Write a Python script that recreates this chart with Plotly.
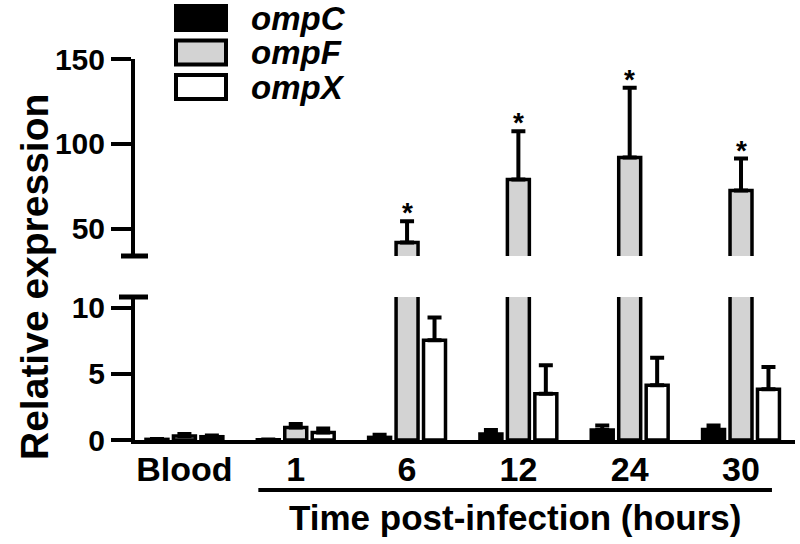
import plotly.graph_objects as go

# ---------------- data ----------------
categories = ["Blood", "1", "6", "12", "24", "30"]
series_names = ["ompC", "ompF", "ompX"]
ompC = [0.05, 0.02, 0.2, 0.45, 0.75, 0.8]
ompC_err = [0.02, 0.02, 0.2, 0.3, 0.35, 0.3]
ompF = [0.3, 0.95, 42, 79, 92, 72.5]
ompF_err = [0.15, 0.26, 12.4, 28.5, 41, 18.9]
ompX = [0.25, 0.57, 7.55, 3.5, 4.14, 3.84]
ompX_err = [0.1, 0.3, 1.73, 2.16, 2.09, 1.68]
significance = ["", "", "*", "*", "*", "*"]
lower_ticks = [0, 5, 10]
upper_ticks = [50, 100, 150]

values = [ompC, ompF, ompX]
errors = [ompC_err, ompF_err, ompX_err]
fills = ["black", "#d3d3d3", "white"]

FONT = "Liberation Sans, Arial, Helvetica, sans-serif"

# layout geometry (pixels)
W, H = 800, 544
L, R, T, B = 135, 5, 59, 440
PW, PH = W - L - R, B - T


def px_x(px):
    return (px - L) / PW


def px_y(py):
    return (B - py) / PH


fig = go.Figure()
for ax in ["y", "y2"]:
    for name, vals, errs, fill in zip(series_names, values, errors, fills):
        fig.add_trace(go.Bar(
            x=categories, y=vals, name=name, yaxis=ax, xaxis="x",
            marker=dict(color=fill, line=dict(color="black", width=3.5)),
            error_y=dict(type="data", array=errs, arrayminus=[0] * len(errs),
                         symmetric=False, color="black", thickness=4, width=7),
            showlegend=False,
        ))

axis_common = dict(
    showline=True, linewidth=4, linecolor="black",
    ticks="outside", ticklen=20, tickwidth=4, tickcolor="black",
    showgrid=False, zeroline=False,
    tickfont=dict(family=FONT, size=30, color="black", weight="bold"),
)

lower_top = 10.83
upper_bottom = 34

fig.update_layout(
    width=W, height=H,
    margin=dict(l=L, r=R, t=T, b=H - B),
    paper_bgcolor="white", plot_bgcolor="white",
    barmode="group", bargap=0.26, bargroupgap=0.2,
    showlegend=False,
    xaxis=dict(
        type="category", range=[-0.444, 5.485], anchor="y",
        showline=True, linewidth=4, linecolor="black", ticks="",
        showgrid=False, zeroline=False, ticklabelstandoff=-4,
        tickfont=dict(family=FONT, size=34, color="black", weight="bold"),
    ),
    yaxis=dict(domain=[0, px_y(297)], range=[0, lower_top], tickvals=lower_ticks,
               anchor="x", **axis_common),
    yaxis2=dict(domain=[px_y(256), 1], range=[upper_bottom, 150], tickvals=upper_ticks,
                anchor="x", **axis_common),
)

shapes = []
annotations = []

# axis break caps
shapes.append(dict(type="line", xref="paper", yref="y domain",
                   x0=px_x(L - 16), x1=px_x(L + 13), y0=1, y1=1,
                   line=dict(color="black", width=5)))
shapes.append(dict(type="line", xref="paper", yref="y2 domain",
                   x0=px_x(L - 14), x1=px_x(L + 13), y0=0, y1=0,
                   line=dict(color="black", width=5)))

# significance stars (x given as category index)
for i, s in enumerate(significance):
    if s:
        annotations.append(dict(
            x=i, y=ompF[i] + ompF_err[i], xref="x", yref="y2",
            text=s, showarrow=False, yanchor="bottom", yshift=-9,
            font=dict(family=FONT, size=28, color="black", weight="bold"),
        ))

# bracket under time points
first_t, last_t = 1, len(categories) - 1
shapes.append(dict(type="line", xref="x", yref="paper",
                   x0=first_t - 0.336, x1=last_t + 0.278,
                   y0=px_y(490), y1=px_y(490),
                   line=dict(color="black", width=4)))
annotations.append(dict(
    x=(first_t - 0.336 + last_t + 0.278) / 2, y=px_y(517), xref="x", yref="paper",
    text="Time post-infection (hours)", showarrow=False,
    xanchor="center", yanchor="middle",
    font=dict(family=FONT, size=35, color="black", weight="bold"),
))

# y title
annotations.append(dict(
    x=px_x(34), y=px_y(277), xref="paper", yref="paper",
    text="Relative expression", showarrow=False, textangle=-90,
    xanchor="center", yanchor="middle",
    font=dict(family=FONT, size=39, color="black", weight="bold"),
))

# custom legend
row_centers = [18, 52.5, 87]
for name, fill, cy in zip(series_names, fills, row_centers):
    shapes.append(dict(type="rect", xref="paper", yref="paper",
                       x0=px_x(176), x1=px_x(226), y0=px_y(cy + 12), y1=px_y(cy - 12),
                       fillcolor=fill, line=dict(color="black", width=4)))
    annotations.append(dict(
        x=px_x(249), y=px_y(cy), xref="paper", yref="paper",
        text="<i>" + name + "</i>", showarrow=False, xanchor="left", yanchor="middle",
        font=dict(family=FONT, size=33, color="black", weight="bold"),
    ))

fig.update_layout(shapes=shapes, annotations=annotations)

fig.write_html("out.html", config={"displayModeBar": False},
               post_script="document.body.style.margin='0px';")
